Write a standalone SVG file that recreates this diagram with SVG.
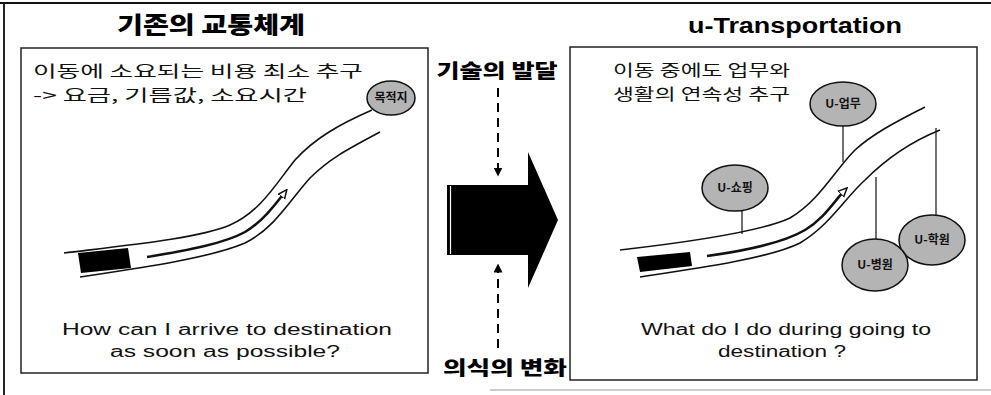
<svg xmlns="http://www.w3.org/2000/svg" width="991" height="395" viewBox="0 0 991 395">
<style>
.panel{fill:#fff;stroke:#222;stroke-width:1.5}
.road{fill:none;stroke:#111;stroke-width:1.6}
.kr{font-family:"Noto Sans CJK KR","Noto Sans",sans-serif;font-size:16px;fill:#111}
.krb{font-family:"Noto Sans CJK KR","Noto Sans",sans-serif;font-weight:900;fill:#000}
.en{font-family:"Liberation Sans",Arial,sans-serif;font-size:16px;fill:#111}
.bub{fill:#b4b4b4;stroke:#111;stroke-width:1.5}
.bt{font-family:"Noto Sans CJK KR","Noto Sans",sans-serif;font-weight:700;font-size:12px;fill:#111;text-anchor:middle}
.stem{stroke:#111;stroke-width:1.2}
</style>
<defs>
<marker id="dh" viewBox="0 0 10 10" refX="5" refY="5" markerWidth="9" markerHeight="9" orient="auto" markerUnits="userSpaceOnUse">
<path d="M0,0 L10,5 L0,10 Z" fill="#000"/>
</marker>
<marker id="ah" viewBox="0 0 10 10" refX="6" refY="5" markerWidth="10" markerHeight="10" orient="auto" markerUnits="userSpaceOnUse">
<path d="M0,1 L9,5 L0,9 Z" fill="#fff" stroke="#111" stroke-width="1.5"/>
</marker>
</defs>
<rect width="991" height="395" fill="#fff"/>
<g id="frame">
<line x1="0" y1="3" x2="991" y2="3" stroke="#111" stroke-width="2"/>
<line x1="4" y1="3" x2="4" y2="395" stroke="#222" stroke-width="2"/>
<line x1="490" y1="390" x2="991" y2="390" stroke="#999" stroke-width="1"/>
</g>
<g id="left-panel">
<text x="211" y="33" class="krb" font-size="23" text-anchor="middle" textLength="188" lengthAdjust="spacingAndGlyphs">기존의 교통체계</text>
<rect x="21" y="48" width="407" height="325" class="panel"/>
<text x="33" y="77" class="kr" textLength="330" lengthAdjust="spacingAndGlyphs">이동에 소요되는 비용 최소 추구</text>
<text x="33" y="101" class="kr" textLength="274" lengthAdjust="spacingAndGlyphs">-&gt; 요금, 기름값, 소요시간</text>
<path class="road" d="M64,253 C130,245 200,238 230,225 C260,212 275,185 295,160 C315,138 340,124 372,110"/>
<path class="road" d="M80,277 C140,268 210,258 245,243 C275,228 290,200 310,178 C330,158 350,148 380,132"/>
<polygon points="78,253 128,248 131,268 81,273" fill="#000"/>
<path d="M147,257 C190,250 225,243 245,232 C262,222 275,205 285,192" fill="none" stroke="#111" stroke-width="2.5" marker-end="url(#ah)"/>
<text x="227" y="335" class="en" text-anchor="middle" textLength="330" lengthAdjust="spacingAndGlyphs">How can I arrive to destination</text>
<text x="225" y="357" class="en" text-anchor="middle" textLength="230" lengthAdjust="spacingAndGlyphs">as soon as possible?</text>
</g>
<g id="node-destination">
<ellipse cx="391" cy="98" rx="24" ry="17" class="bub"/>
<text x="391" y="102" class="bt" font-size="11">목적지</text>
</g>
<g id="center">
<text x="497" y="78" class="krb" font-size="19" text-anchor="middle" textLength="121" lengthAdjust="spacingAndGlyphs">기술의 발달</text>
<text x="505" y="375" class="krb" font-size="19" text-anchor="middle" textLength="124" lengthAdjust="spacingAndGlyphs">의식의 변화</text>
<polygon points="447,185 528,185 528,152 558,220 528,288 528,255 447,255" fill="#000"/>
<line x1="450.5" y1="186" x2="450.5" y2="254" stroke="#fff" stroke-width="1.2"/>
</g>
<g id="connectors">
<line x1="498" y1="88" x2="498" y2="172" stroke="#000" stroke-width="2" stroke-dasharray="9,6" marker-end="url(#dh)"/>
<line x1="498" y1="348" x2="498" y2="268" stroke="#000" stroke-width="2" stroke-dasharray="9,6" marker-end="url(#dh)"/>
</g>
<g id="right-panel">
<text x="795" y="33" font-family="'Liberation Sans',Arial,sans-serif" font-weight="700" font-size="22" text-anchor="middle" textLength="214" lengthAdjust="spacingAndGlyphs">u-Transportation</text>
<rect x="570" y="47" width="407" height="333" class="panel"/>
<text x="613" y="76" class="kr" textLength="177" lengthAdjust="spacingAndGlyphs">이동 중에도 업무와</text>
<text x="613" y="100" class="kr" textLength="177" lengthAdjust="spacingAndGlyphs">생활의 연속성 추구</text>
<path class="road" d="M620,250 C690,242 760,232 790,218 C820,200 835,170 855,150 C875,132 900,120 925,107"/>
<path class="road" d="M640,277 C700,268 770,258 800,243 C830,225 845,198 865,180 C885,160 910,142 940,130"/>
<polygon points="637,257 690,252 692,266 640,272" fill="#000"/>
<path d="M707,256 C750,250 785,242 805,230 C825,218 835,200 845,190" fill="none" stroke="#111" stroke-width="2.5" marker-end="url(#ah)"/>
<line x1="843" y1="125" x2="843" y2="162" class="stem"/>
<line x1="742" y1="210" x2="742" y2="234" class="stem"/>
<line x1="936" y1="216" x2="936" y2="128" class="stem"/>
<line x1="876" y1="240" x2="876" y2="177" class="stem"/>
<text x="786" y="335" class="en" text-anchor="middle" textLength="290" lengthAdjust="spacingAndGlyphs">What do I do during going to</text>
<text x="782" y="357" class="en" text-anchor="middle" textLength="128" lengthAdjust="spacingAndGlyphs">destination ?</text>
</g>
<g id="node-u-work">
<ellipse cx="843" cy="104" rx="33" ry="22" class="bub"/>
<text x="843" y="108" class="bt">U-업무</text>
</g>
<g id="node-u-shopping">
<ellipse cx="735" cy="188" rx="33" ry="23" class="bub"/>
<text x="735" y="192" class="bt">U-쇼핑</text>
</g>
<g id="node-u-academy">
<ellipse cx="932" cy="240" rx="33" ry="25" class="bub"/>
<text x="932" y="244" class="bt">U-학원</text>
</g>
<g id="node-u-hospital">
<ellipse cx="875" cy="265" rx="33" ry="26" class="bub"/>
<text x="875" y="269" class="bt">U-병원</text>
</g>
</svg>
